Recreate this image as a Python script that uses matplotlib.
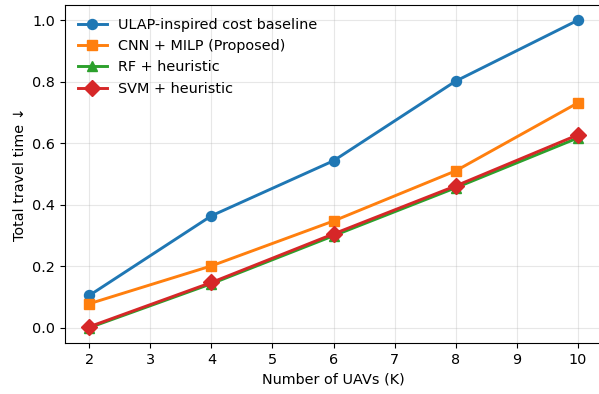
import matplotlib
matplotlib.use("Agg")
import matplotlib.pyplot as plt

plt.rcParams["font.size"] = 10.4

# number of UAVs
k_values = [2, 4, 6, 8, 10]

# normalised total travel time per method
ulap = [0.105, 0.364, 0.543, 0.802, 1.0]
cnn_milp = [0.078, 0.201, 0.347, 0.510, 0.731]
rf = [0.0, 0.143, 0.299, 0.455, 0.617]
svm = [0.003, 0.147, 0.305, 0.461, 0.627]

fig, ax = plt.subplots(figsize=(5.99, 3.94), dpi=100)

ax.plot(k_values, ulap, marker="o", lw=2.1, ms=7.2, label="ULAP-inspired cost baseline")
ax.plot(k_values, cnn_milp, marker="s", lw=2.1, ms=7.2, label="CNN + MILP (Proposed)")
ax.plot(k_values, rf, marker="^", lw=2.1, ms=7.2, label="RF + heuristic")
ax.plot(k_values, svm, marker="D", lw=2.1, ms=7.8, label="SVM + heuristic")

ax.set_xlabel("Number of UAVs (K)")
ax.set_ylabel("Total travel time ↓")
ax.grid(True, alpha=0.3)
ax.legend(loc="upper left", frameon=False)

# the reference is cropped tight, right spine falls just past the image edge
fig.subplots_adjust(left=65 / 599, right=602 / 599, top=1 - 5 / 394, bottom=1 - 343 / 394)
fig.savefig("out.png", dpi=100)
